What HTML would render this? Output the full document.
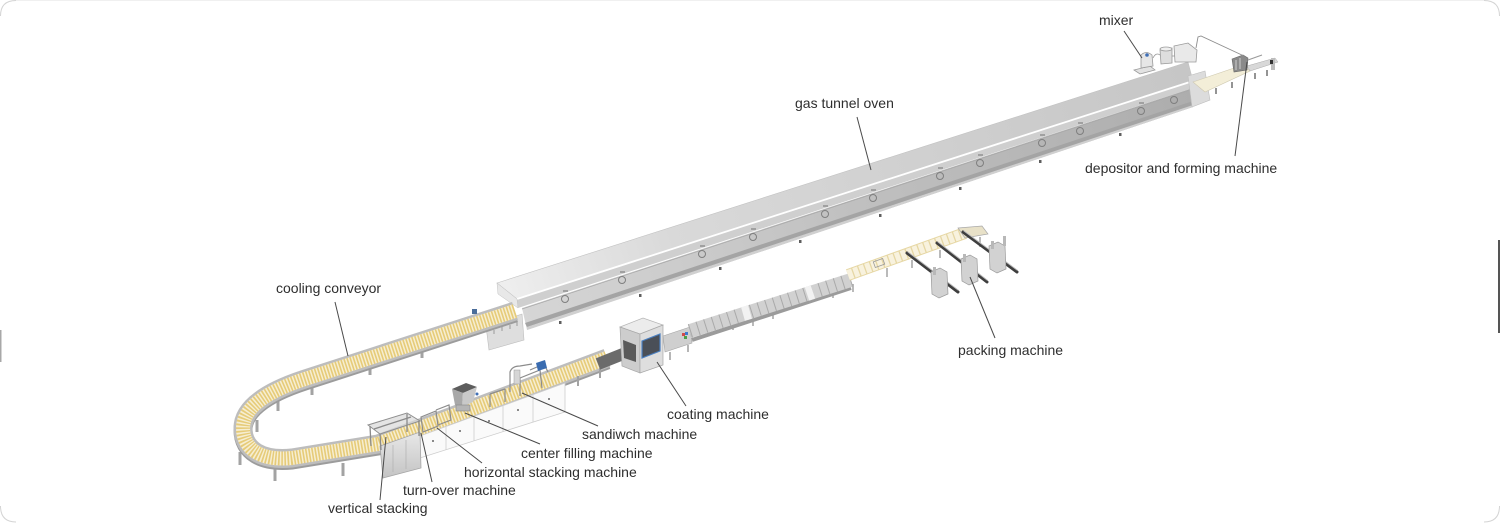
<!DOCTYPE html>
<html><head><meta charset="utf-8">
<style>
html,body{margin:0;padding:0;background:#fff;}
svg{display:block;}
text{font-family:"Liberation Sans",Arial,sans-serif;font-size:14px;fill:#2e2e2e;}
</style></head><body>
<svg width="1500" height="530" viewBox="0 0 1500 530" xmlns="http://www.w3.org/2000/svg">
<defs>
 <linearGradient id="gTop" gradientUnits="userSpaceOnUse" x1="497" y1="288" x2="1190" y2="68">
  <stop offset="0" stop-color="#efefef"/><stop offset="0.25" stop-color="#d9d9d9"/><stop offset="1" stop-color="#c6c6c6"/>
 </linearGradient>
 <linearGradient id="gBody" gradientUnits="userSpaceOnUse" x1="520" y1="320" x2="1193" y2="98">
  <stop offset="0" stop-color="#d6d6d6"/><stop offset="0.5" stop-color="#c0c0c0"/><stop offset="1" stop-color="#adadad"/>
 </linearGradient>
 <linearGradient id="gBox" x1="0" y1="0" x2="0" y2="1">
  <stop offset="0" stop-color="#e8e8e8"/><stop offset="1" stop-color="#c4c4c4"/>
 </linearGradient>
</defs>

<g fill="none" stroke="#d4d4d4" stroke-width="1">
 <path d="M0.5,16 Q0.5,0.5 16,0.5"/>
 <path d="M1484,0.5 Q1499.5,0.5 1499.5,16"/>
 <path d="M0.5,506 Q0.5,522 16,522"/>
 <path d="M1499.5,506 Q1499.5,522 1484,522"/>
 <line x1="16" y1="0.5" x2="1484" y2="0.5" stroke="#f0f0f0"/>
</g>
<rect x="0" y="330" width="1.5" height="32" fill="#a8a8a8"/>
<rect x="1498" y="240" width="2" height="93" fill="#555"/>

<!-- ===== OVEN ===== -->
<polygon points="486,326 522,314 524,340 489,350" fill="#dedede" stroke="#bdbdbd" stroke-width="0.6"/>
<g stroke="#9a9a9a" stroke-width="1">
 <line x1="494" y1="330" x2="494" y2="334"/><line x1="502" y1="327" x2="502" y2="331"/><line x1="510" y1="325" x2="510" y2="329"/><line x1="517" y1="322" x2="517" y2="326"/>
</g>
<polygon points="497,283 1188,62 1193,81 517,299" fill="url(#gTop)" stroke="#c2c2c2" stroke-width="0.6"/>
<polygon points="517,299 1193,81 1193,88 518,308" fill="#cfcfcf"/>
<line x1="517" y1="299" x2="1193" y2="81" stroke="#ffffff" stroke-width="1.8"/>
<polygon points="497,283 517,299 518,308 498,294" fill="#e8e8e8" stroke="#c2c2c2" stroke-width="0.5"/>
<polygon points="522,308 1193,88 1193,107 527,330" fill="url(#gBody)"/>
<polygon points="525,323 1193,101 1193,105 527,327" fill="#a4a4a4"/>
<polygon points="527,327 1193,105 1193,107 527,330" fill="#d0d0d0"/>
<line x1="522" y1="309" x2="1193" y2="89" stroke="#a9a9a9" stroke-width="0.8"/>
<g fill="none" stroke="#7f7f7f" stroke-width="1">
 <circle cx="565" cy="299" r="3.5"/><circle cx="622" cy="280" r="3.5"/><circle cx="702" cy="254" r="3.5"/>
 <circle cx="753" cy="237" r="3.5"/><circle cx="825" cy="214" r="3.5"/><circle cx="873" cy="198" r="3.5"/>
 <circle cx="940" cy="176" r="3.5"/><circle cx="980" cy="163" r="3.5"/><circle cx="1042" cy="143" r="3.5"/>
 <circle cx="1080" cy="131" r="3.5"/><circle cx="1141" cy="111" r="3.5"/><circle cx="1174" cy="100" r="3.5"/>
</g>
<g fill="#a0a0a0">
 <rect x="563" y="290" width="5" height="2"/><rect x="620" y="271" width="5" height="2"/><rect x="700" y="245" width="5" height="2"/>
 <rect x="751" y="228" width="5" height="2"/><rect x="823" y="205" width="5" height="2"/><rect x="871" y="189" width="5" height="2"/>
 <rect x="938" y="167" width="5" height="2"/><rect x="978" y="154" width="5" height="2"/><rect x="1040" y="134" width="5" height="2"/>
 <rect x="1078" y="122" width="5" height="2"/><rect x="1139" y="102" width="5" height="2"/>
</g>
<g fill="#5e5e5e">
 <rect x="559" y="321" width="2.5" height="3"/><rect x="639" y="294" width="2.5" height="3"/><rect x="719" y="267" width="2.5" height="3"/>
 <rect x="799" y="240" width="2.5" height="3"/><rect x="879" y="214" width="2.5" height="3"/><rect x="959" y="187" width="2.5" height="3"/>
 <rect x="1039" y="160" width="2.5" height="3"/><rect x="1119" y="133" width="2.5" height="3"/>
</g>
<polygon points="1188,76 1205,71 1210,100 1192,107" fill="#dcdcdc" stroke="#bdbdbd" stroke-width="0.6"/>
<polygon points="1193,82 1243,65 1250,71 1205,92" fill="#f3eed8" stroke="#cfc9b0" stroke-width="0.6"/>
<g stroke="#666" stroke-width="1.4">
 <line x1="1216" y1="88" x2="1216" y2="94"/><line x1="1232" y1="82" x2="1232" y2="88"/><line x1="1255" y1="73" x2="1255" y2="79"/><line x1="1267" y1="70" x2="1267" y2="76"/>
</g>
<polygon points="1247,66 1275,58 1278,62 1250,71" fill="#d8d8d8" stroke="#aaa" stroke-width="0.5"/>
<rect x="1271" y="58" width="4" height="12" fill="#bdbdbd"/>
<rect x="1270" y="60" width="3" height="4" fill="#333"/>
<polygon points="1232,59 1243,55 1248,58 1247,70 1234,72" fill="#8a8a8a" stroke="#666" stroke-width="0.6"/>
<line x1="1236" y1="60" x2="1236" y2="70" stroke="#cfcfcf" stroke-width="1"/>
<line x1="1240" y1="58" x2="1240" y2="69" stroke="#cfcfcf" stroke-width="1"/>
<line x1="1248" y1="60" x2="1262" y2="55" stroke="#999" stroke-width="1"/>
<g stroke="#9a9a9a" stroke-width="0.8">
 <path d="M1134,70 L1150,66 L1155,70 L1140,74 Z" fill="#e2e2e2"/>
 <path d="M1141,55 Q1146,50 1152,55 L1153,66 L1141,68 Z" fill="#e6e6e6"/>
 <path d="M1160,50 L1172,48 L1172,63 L1161,64 Z" fill="#dedede"/>
 <ellipse cx="1166" cy="49" rx="6" ry="2" fill="#efefef"/>
 <path d="M1174,46 L1188,43 L1197,50 L1196,62 L1175,62 Z" fill="#e9e9e9"/>
 <path d="M1153,58 Q1156,52 1160,55" fill="none"/>
 <path d="M1172,56 L1175,56" fill="none"/>
</g>
<circle cx="1147" cy="55" r="1.8" fill="#3f6fb5"/>
<path d="M1196,48 L1198,37 L1201,36 L1244,56" fill="none" stroke="#8e8e8e" stroke-width="0.9"/>

<!-- ===== COOLING CONVEYOR + PROCESS LINE ===== -->
<g stroke="#a3a3a3" stroke-width="3">
 <line x1="422" y1="345" x2="422" y2="358"/><line x1="370" y1="362" x2="370" y2="375"/><line x1="312" y1="382" x2="312" y2="395"/>
 <line x1="278" y1="399" x2="278" y2="411"/><line x1="257" y1="420" x2="257" y2="432"/><line x1="240" y1="452" x2="240" y2="465"/>
 <line x1="275" y1="466" x2="275" y2="481"/><line x1="343" y1="463" x2="343" y2="476"/>
</g>
<g fill="none" stroke-linejoin="round">
 <path d="M515,311 L305,379 C262,393 243,410 243,428 C243,450 262,461 292,458 L378,444 L607,358" stroke="#9c9c9c" stroke-width="19" transform="translate(0,2)"/>
 <path d="M515,311 L305,379 C262,393 243,410 243,428 C243,450 262,461 292,458 L378,444 L607,358" stroke="#bdbdbd" stroke-width="19"/>
 <path d="M515,311 L305,379 C262,393 243,410 243,428 C243,450 262,461 292,458 L378,444 L607,358" stroke="#f6eed2" stroke-width="14"/>
 <path d="M515,311 L305,379 C262,393 243,410 243,428 C243,450 262,461 292,458 L378,444 L607,358" stroke="#e6cb78" stroke-width="14" stroke-dasharray="1.6 1.5"/>
</g>
<rect x="472" y="309" width="5" height="5" fill="#4a6d9a"/>
<polygon points="420,436 565,383 565,412 420,458" fill="#fafafa" stroke="#cdcdcd" stroke-width="0.8"/>
<g stroke="#cfcfcf" stroke-width="0.8">
 <line x1="446" y1="427" x2="446" y2="450"/><line x1="474" y1="416" x2="474" y2="441"/><line x1="503" y1="406" x2="503" y2="432"/><line x1="533" y1="395" x2="533" y2="422"/>
</g>
<g fill="#8a8a8a">
 <rect x="432" y="440" width="2" height="2"/><rect x="459" y="430" width="2" height="2"/><rect x="488" y="420" width="2" height="2"/><rect x="517" y="409" width="2" height="2"/><rect x="548" y="398" width="2" height="2"/>
</g>
<g stroke="#a3a3a3" stroke-width="2">
 <line x1="600" y1="368" x2="600" y2="378"/><line x1="578" y1="376" x2="578" y2="386"/>
</g>
<polygon points="380,446 420,432 421,468 383,478" fill="url(#gBox)" stroke="#a5a5a5" stroke-width="0.8"/>
<g stroke="#b0b0b0" stroke-width="0.7"><line x1="393" y1="445" x2="393" y2="472"/><line x1="406" y1="440" x2="406" y2="469"/></g>
<polygon points="368,425 407,413 420,421 380,434" fill="#d8d8d8" fill-opacity="0.7" stroke="#8e8e8e" stroke-width="1"/>
<g stroke="#8a8a8a" stroke-width="1.3">
 <line x1="370" y1="426" x2="371" y2="446"/><line x1="380" y1="434" x2="381" y2="450"/><line x1="407" y1="414" x2="407" y2="432"/><line x1="419" y1="421" x2="419" y2="436"/>
 <line x1="374" y1="429" x2="411" y2="417"/>
</g>
<g stroke="#8c8c8c" stroke-width="1.2" fill="none">
 <path d="M421,417 L436,411 L438,426 L423,432 Z"/>
 <path d="M436,410 L449,405 L451,420 L438,425"/>
 <line x1="490" y1="394" x2="490" y2="407"/><line x1="505" y1="389" x2="505" y2="402"/><line x1="490" y1="394" x2="505" y2="389"/>
</g>
<polygon points="452,389 466,383 477,387 463,393" fill="#5d5d5d"/>
<polygon points="452,389 463,393 462,407 455,405" fill="#a8a8a8"/>
<polygon points="463,393 477,387 473,402 462,407" fill="#c9c9c9"/>
<rect x="456" y="405" width="14" height="6" fill="#b5b5b5" stroke="#888" stroke-width="0.6"/>
<circle cx="477" cy="394" r="1.5" fill="#3f6fb5"/>
<g stroke="#8c8c8c" stroke-width="1.2" fill="none">
 <path d="M510,392 L510,372 Q512,366 520,366 L532,364"/>
 <path d="M520,396 L520,378 L540,370 L542,388"/>
 <path d="M530,370 L544,364 L548,372"/>
</g>
<rect x="514" y="370" width="6" height="14" fill="#d6d6d6" stroke="#999" stroke-width="0.5"/>
<polygon points="536,363 545,360 547,368 538,371" fill="#3a6cb0"/>
<path d="M598,364 L628,352" stroke="#6b6b6b" stroke-width="12" fill="none"/>
<polygon points="620,327 643,318 663,325 640,334" fill="#ececec" stroke="#b5b5b5" stroke-width="0.7"/>
<polygon points="620,327 640,334 640,373 622,366" fill="#cdcdcd" stroke="#a8a8a8" stroke-width="0.7"/>
<polygon points="640,334 663,325 663,365 640,373" fill="#dedede" stroke="#a8a8a8" stroke-width="0.7"/>
<polygon points="623,340 636,345 636,362 624,358" fill="#5a5a5a"/>
<polygon points="642,341 660,334 660,351 642,358" fill="#4a4f57" stroke="#4a7fc0" stroke-width="1.2"/>
<polygon points="663,336 690,327 692,343 665,352" fill="#cfcfcf" stroke="#a5a5a5" stroke-width="0.6"/>
<rect x="682" y="333" width="3" height="3" fill="#d24a4a"/><rect x="685" y="332" width="3" height="3" fill="#3d7bd0"/><rect x="684" y="336" width="3" height="3" fill="#4aa04a"/>
<g stroke="#a3a3a3" stroke-width="1.6"><line x1="670" y1="352" x2="670" y2="360"/><line x1="688" y1="345" x2="688" y2="352"/></g>

<!-- ===== PACKING LINE ===== -->
<g stroke="#a8a8a8" stroke-width="1.6">
 <line x1="733" y1="322" x2="733" y2="330"/><line x1="753" y1="316" x2="753" y2="326"/><line x1="773" y1="310" x2="773" y2="319"/>
 <line x1="833" y1="290" x2="833" y2="298"/><line x1="853" y1="284" x2="853" y2="292"/><line x1="887" y1="268" x2="887" y2="277"/>
 <line x1="912" y1="260" x2="912" y2="268"/><line x1="940" y1="250" x2="940" y2="258"/><line x1="980" y1="237" x2="980" y2="247"/>
</g>
<path d="M692,340 L851,288" stroke="#9b9b9b" stroke-width="4" fill="none"/>
<path d="M690,331 L851,280" stroke="#d1d1d1" stroke-width="14" fill="none"/>
<path d="M690,331 L851,280" stroke="#a9a9a9" stroke-width="14" fill="none" stroke-dasharray="1 7"/>
<path d="M743,314 L750,312" stroke="#f2f2f2" stroke-width="14" fill="none"/>
<path d="M807,294 L813,292" stroke="#f2f2f2" stroke-width="14" fill="none"/>
<path d="M848,275 L965,233" stroke="#e6d7a4" stroke-width="12" fill="none"/>
<path d="M848,275 L965,233" stroke="#f8f2de" stroke-width="10" fill="none" stroke-dasharray="5 1.3"/>
<rect x="874" y="260" width="10" height="6" fill="none" stroke="#9a9a9a" stroke-width="0.8" transform="rotate(-20 879 263)"/>
<polygon points="958,228 982,226 988,234 965,238" fill="#e8e1c8" stroke="#a9a9a9" stroke-width="0.7"/>
<g stroke-linecap="round">
 <line x1="907" y1="253" x2="958" y2="292" stroke="#3e3e3e" stroke-width="3"/>
 <line x1="937" y1="243" x2="987" y2="282" stroke="#3e3e3e" stroke-width="3"/>
 <line x1="963" y1="232" x2="1017" y2="272" stroke="#3e3e3e" stroke-width="3"/>
 <line x1="908" y1="252" x2="958" y2="290" stroke="#bdbdbd" stroke-width="1"/>
 <line x1="938" y1="242" x2="987" y2="280" stroke="#bdbdbd" stroke-width="1"/>
 <line x1="964" y1="231" x2="1017" y2="270" stroke="#bdbdbd" stroke-width="1"/>
</g>
<g stroke="#9a9a9a" stroke-width="0.7">
 <polygon points="931,272 940,268 947,272 948,294 939,298 932,294" fill="#d2d2d2"/>
 <polygon points="961,259 970,255 977,259 978,281 969,285 962,281" fill="#d2d2d2"/>
 <polygon points="989,246 998,242 1005,246 1006,269 997,273 990,269" fill="#d2d2d2"/>
</g>
<g fill="#b8b8b8">
 <rect x="933" y="267" width="3" height="8"/><rect x="963" y="254" width="3" height="8"/><rect x="991" y="241" width="3" height="8"/>
 <rect x="1003" y="236" width="3" height="10"/>
</g>

<!-- ===== LEADER LINES ===== -->
<g stroke="#4a4a4a" stroke-width="1" fill="none">
 <line x1="1124" y1="31" x2="1142" y2="58"/>
 <line x1="857" y1="117" x2="871" y2="170"/>
 <line x1="1235" y1="156" x2="1247" y2="62"/>
 <line x1="335" y1="302" x2="348" y2="356"/>
 <line x1="995" y1="338" x2="970" y2="277"/>
 <line x1="686" y1="406" x2="657" y2="362"/>
 <line x1="598" y1="426" x2="522" y2="393"/>
 <line x1="540" y1="444" x2="465" y2="413"/>
 <line x1="482" y1="463" x2="437" y2="428"/>
 <line x1="432" y1="482" x2="421" y2="433"/>
 <line x1="380" y1="500" x2="386" y2="437"/>
</g>

<!-- ===== LABELS ===== -->
<text x="1099" y="25">mixer</text>
<text x="795" y="108">gas tunnel oven</text>
<text x="1085" y="173">depositor and forming machine</text>
<text x="276" y="293">cooling conveyor</text>
<text x="958" y="355">packing machine</text>
<text x="667" y="419">coating machine</text>
<text x="582" y="439">sandiwch machine</text>
<text x="521" y="458">center filling machine</text>
<text x="464" y="477">horizontal stacking machine</text>
<text x="403" y="495">turn-over machine</text>
<text x="328" y="513">vertical stacking</text>
</svg>
</body></html>
